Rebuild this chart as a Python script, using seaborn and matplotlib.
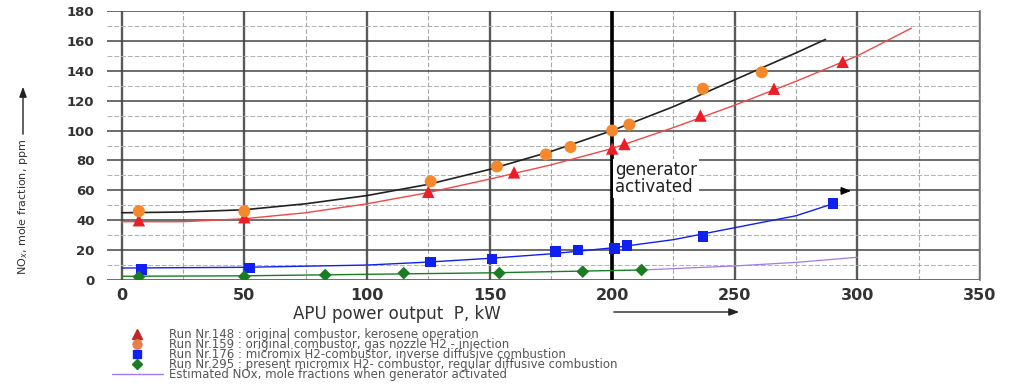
import matplotlib
matplotlib.use("Agg")
import matplotlib.pyplot as plt
from matplotlib.lines import Line2D
from matplotlib.patches import FancyArrowPatch
from matplotlib.ticker import MultipleLocator
import seaborn as sns

# ---- data ----
run148_x = [7, 50, 125, 160, 200, 205, 236, 266, 294]
run148_y = [40, 42, 59, 72, 88, 91, 110, 128, 146]
run159_x = [7, 50, 126, 153, 173, 183, 200, 207, 237, 261]
run159_y = [46, 46, 66, 76, 84, 89, 100, 104, 128, 139]
run176_x = [8, 52, 126, 151, 177, 186, 201, 206, 237, 290]
run176_y = [7, 8, 12, 14, 19, 20, 21, 23, 29, 51]
run295_x = [7, 50, 83, 115, 154, 188, 212]
run295_y = [2, 2.2, 3.3, 4.6, 4.6, 5.6, 6.7]

# trend curves
fit148_x = [0, 25, 50, 75, 100, 125, 150, 175, 200, 225, 250, 275, 300, 322]
fit148_y = [39, 39, 41, 45, 51, 58.5, 67.5, 77, 88, 102, 117, 133, 150, 168.5]
fit159_x = [0, 25, 50, 75, 100, 125, 150, 175, 200, 225, 250, 275, 287]
fit159_y = [45, 45.5, 47, 51, 56.5, 64, 74, 86, 100, 116, 134, 152, 161]
fit176_x = [0, 50, 100, 125, 150, 175, 200, 225, 250, 275, 290]
fit176_y = [8, 8.5, 10, 12, 14.5, 17.5, 21.5, 27, 35, 43, 51]
fit295_x = [0, 50, 100, 150, 212]
fit295_y = [2.5, 2.8, 3.8, 4.8, 6.7]
est_x = [212, 225, 250, 275, 300]
est_y = [6.7, 7.6, 9.4, 11.8, 15.2]

labels = [
    "Run Nr.148 : original combustor, kerosene operation",
    "Run Nr.159 : original combustor, gas nozzle H2 - injection",
    "Run Nr.176 : micromix H2-combustor, inverse diffusive combustion",
    "Run Nr.295 : present micromix H2- combustor, regular diffusive combustion",
    "Estimated NOx, mole fractions when generator activated",
]

x_ticks = [0, 50, 100, 150, 200, 250, 300, 350]
y_ticks = [0, 20, 40, 60, 80, 100, 120, 140, 160, 180]

# ---- style ----
sns.set_theme(style="white")
plt.rcParams["font.family"] = ["DejaVu Sans"]

c_red = "#ee1c25"
c_redline = "#f04848"
c_orange = "#f5882a"
c_blue = "#1020f0"
c_green = "#1a7d23"
c_purple = "#a47ae8"

fig = plt.figure(figsize=(10.12, 3.92), dpi=100)
ax = fig.add_axes([107 / 1012, 1 - 280 / 392, 873 / 1012, 269 / 392])

ax.set_xlim(-6, 350)
ax.set_ylim(0, 180)
ax.xaxis.set_minor_locator(MultipleLocator(25))
ax.yaxis.set_minor_locator(MultipleLocator(10))
ax.set_xticks(x_ticks)
ax.set_yticks(y_ticks)

ax.xaxis.grid(True, which="major", color="#5a5a5a", lw=1.7)
ax.xaxis.grid(True, which="minor", color="#a8a8a8", lw=0.8, ls=(0, (4, 2)))
ax.yaxis.grid(True, which="major", color="#454545", lw=1.1)
ax.yaxis.grid(True, which="minor", color="#b0b0b0", lw=0.7, ls=(0, (5, 2)))
ax.set_axisbelow(True)
for s in ["left", "top", "bottom"]:
    ax.spines[s].set_visible(False)
ax.spines["right"].set_color("#777777")
ax.spines["right"].set_linewidth(1.2)

ax.tick_params(axis="both", which="both", length=0)
ax.tick_params(axis="x", pad=6, labelsize=11.5, labelcolor="#333333")
ax.tick_params(axis="y", pad=9, labelsize=9.5, labelcolor="#333333")
for lab in ax.get_xticklabels() + ax.get_yticklabels():
    lab.set_fontweight("bold")

# generator line
ax.axvline(200, color="black", lw=2.6, zorder=2)

# curves
def curve(xs, ys, color, lw):
    sns.lineplot(x=xs, y=ys, ax=ax, color=color, lw=lw, sort=False,
                 estimator=None, zorder=3)

curve(fit159_x, fit159_y, "#222222", 1.2)
curve(fit148_x, fit148_y, c_redline, 1.0)
curve(fit176_x, fit176_y, c_blue, 1.0)
curve(fit295_x, fit295_y, c_green, 1.0)
curve(est_x, est_y, c_purple, 0.9)

# markers
def pts(xs, ys, color, marker, size):
    sns.scatterplot(x=xs, y=ys, ax=ax, color=color, marker=marker, s=size,
                    edgecolor="none", linewidth=0, zorder=4)

pts(run148_x, run148_y, c_red, "^", 80)
pts(run159_x, run159_y, c_orange, "o", 75)
pts(run176_x, run176_y, c_blue, "s", 58)
pts(run295_x, run295_y, c_green, "D", 42)

# annotation
ax.text(201.3, 68, "generator\nactivated", ha="left", va="center",
        fontsize=12, color="#222222", linespacing=0.95, zorder=5,
        bbox=dict(boxstyle="square,pad=0.12", fc="white", ec="none"))
ax.annotate("", xy=(298.5, 59.6), xytext=(292, 59.6),
            arrowprops=dict(arrowstyle="-|>,head_length=0.5,head_width=0.2",
                            color="black", lw=0.8), zorder=5)

# axis labels
ax.set_xlabel("APU power output  P, kW", fontsize=12, color="#333333")
ax.xaxis.set_label_coords((397 - 107) / 873, (280 - 305) / 269)
ax.set_ylabel("NO$_x$, mole fraction, ppm", fontsize=8, color="#333333")
ax.yaxis.set_label_coords((30 - 107) / 873, (280 - 207) / 269)

fig.add_artist(FancyArrowPatch(
    (611 / 1012, 1 - 312 / 392), (742 / 1012, 1 - 312 / 392),
    transform=fig.transFigure, arrowstyle="-|>,head_length=6,head_width=2.2",
    color="#222222", lw=1.0))
fig.add_artist(FancyArrowPatch(
    (23 / 1012, 1 - 137 / 392), (23 / 1012, 1 - 84 / 392),
    transform=fig.transFigure, arrowstyle="-|>,head_length=6,head_width=2.2",
    color="#222222", lw=1.0))

# legend
handles = [
    Line2D([], [], ls="none", marker="^", color="#c0282a", markersize=7),
    Line2D([], [], ls="none", marker="o", color="#e8804a", markersize=6.5),
    Line2D([], [], ls="none", marker="s", color=c_blue, markersize=5.5),
    Line2D([], [], ls="none", marker="D", color=c_green, markersize=5),
    Line2D([], [], color=c_purple, lw=1.0),
]
leg = fig.legend(handles, labels, loc="upper left",
                 bbox_to_anchor=(112 / 1012, 1 - 328 / 392),
                 frameon=False, fontsize=8.5, labelspacing=-0.25,
                 handlelength=4.3, handletextpad=0.5, borderpad=0,
                 borderaxespad=0, handleheight=0.6)
for t in leg.get_texts():
    t.set_color("#555555")

fig.savefig("out.png", dpi=100)
